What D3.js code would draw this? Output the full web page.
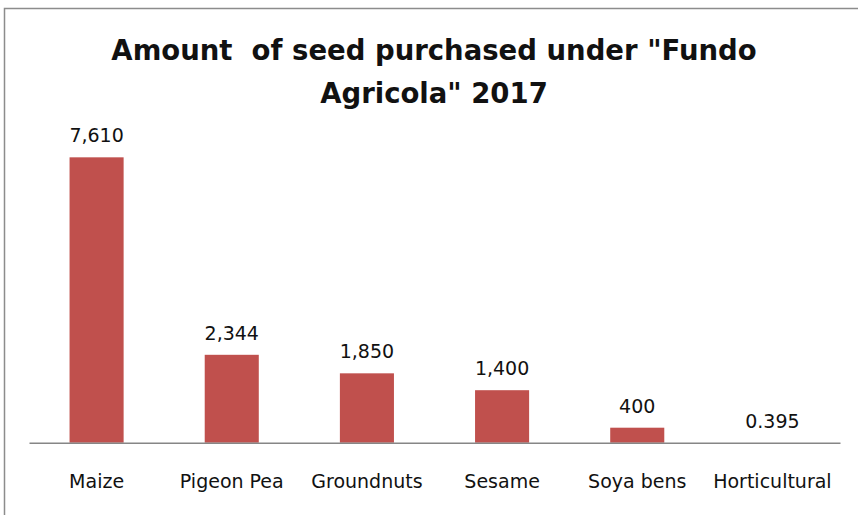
<!DOCTYPE html>
<html>
<head>
<meta charset="utf-8">
<script src="https://cdn.jsdelivr.net/npm/d3@7"></script>
<style>
  body { margin: 0; background: #fff; }
  svg text { font-family: "DejaVu Sans", Verdana, sans-serif; fill: #111; }
</style>
</head>
<body>
<div id="chart"></div>
<script>
var categories = ["Maize", "Pigeon Pea", "Groundnuts", "Sesame", "Soya bens", "Horticultural"];
var amounts = [7610, 2344, 1850, 1400, 400, 0.395];
var valueLabels = ["7,610", "2,344", "1,850", "1,400", "400", "0.395"];
var titleLines = ["Amount  of seed purchased under \"Fundo", "Agricola\" 2017"];

var width = 858, height = 515;
var margin = {top: 142.7, right: 18, bottom: 72.3, left: 29};

var svg = d3.select("#chart").append("svg")
	.attr("width", width)
	.attr("height", height);

// chart frame
svg.append("rect")
	.attr("x", 4.5).attr("y", 8.5)
	.attr("width", width + 20).attr("height", height + 20)
	.attr("fill", "#fff")
	.attr("stroke", "#8c8c8c")
	.attr("stroke-width", 1.5);

var x = d3.scaleBand()
	.domain(categories)
	.range([margin.left, width - margin.right])
	.paddingInner(0.6)
	.paddingOuter(0.3);

var y = d3.scaleLinear()
	.domain([0, 8000])
	.range([height - margin.bottom, margin.top]);

// title
svg.append("g").selectAll("text")
	.data(titleLines)
	.join("text")
	.attr("x", 434)
	.attr("y", function(d, i) { return 60 + i * 43; })
	.attr("text-anchor", "middle")
	.style("font-weight", "bold")
	.style("font-size", "27.5px")
	.style("white-space", "pre")
	.text(function(d) { return d; });

// bars
svg.append("g").selectAll("rect")
	.data(amounts)
	.join("rect")
	.attr("x", function(d, i) { return x(categories[i]); })
	.attr("y", function(d) { return y(d); })
	.attr("width", x.bandwidth())
	.attr("height", function(d) { return y(0) - y(d); })
	.attr("fill", "#c0504d");

// value labels
svg.append("g").selectAll("text")
	.data(amounts)
	.join("text")
	.attr("x", function(d, i) { return x(categories[i]) + x.bandwidth() / 2; })
	.attr("y", function(d) { return y(d) - 15; })
	.attr("text-anchor", "middle")
	.style("font-size", "19px")
	.text(function(d, i) { return valueLabels[i]; });

// x axis
var xAxis = svg.append("g")
	.attr("transform", "translate(0," + y(0) + ")")
	.call(d3.axisBottom(x).tickSize(0).tickPadding(32).tickSizeOuter(0));
xAxis.select(".domain").attr("stroke", "#868686").attr("stroke-width", 1.5);
xAxis.selectAll("text")
	.style("font-size", "19px")
	.attr("fill", null);
</script>
</body>
</html>
